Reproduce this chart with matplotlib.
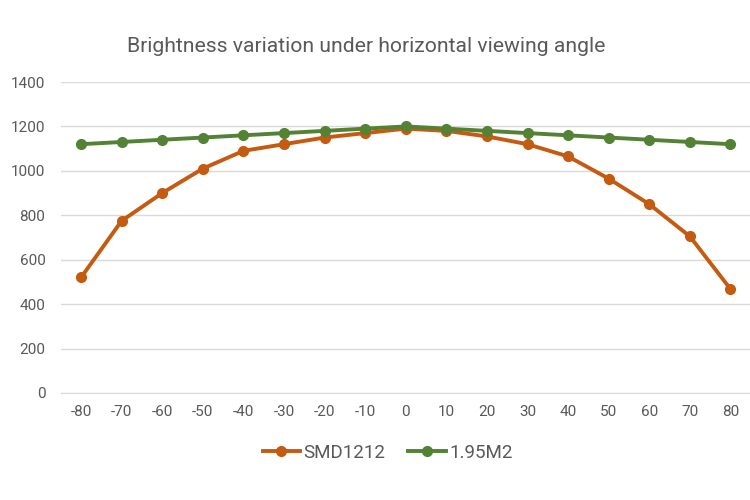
import matplotlib
matplotlib.use("Agg")
import matplotlib.pyplot as plt
import numpy as np

plt.rcParams['font.family'] = ['Roboto', 'DejaVu Sans']

angles = ['-80', '-70', '-60', '-50', '-40', '-30', '-20', '-10', '0',
          '10', '20', '30', '40', '50', '60', '70', '80']
smd1212 = [520, 775, 900, 1010, 1090, 1120, 1150, 1170, 1190,
           1180, 1155, 1120, 1065, 965, 850, 705, 468]
m195 = [1120, 1130, 1140, 1150, 1160, 1170, 1180, 1190, 1200,
        1190, 1180, 1170, 1160, 1150, 1140, 1130, 1120]

text_col = '#595959'

fig = plt.figure(figsize=(7.5, 5), dpi=100)
ax = fig.add_axes([0.081, 0.214, 0.92, 0.622])

x = np.arange(len(angles))
ax.plot(x, smd1212, color='#C55A11', lw=2.8, marker='o', ms=7, label='SMD1212', zorder=3)
ax.plot(x, m195, color='#548235', lw=2.8, marker='o', ms=7, label='1.95M2', zorder=3)

ax.set_xlim(-0.5, len(angles) - 0.5)
ax.set_ylim(0, 1400)
ax.set_yticks(range(0, 1401, 200))
ax.set_xticks(x)
ax.set_xticklabels(angles)
ax.yaxis.grid(True, color='#D9D9D9', lw=1)
ax.set_axisbelow(True)
for s in ax.spines.values():
    s.set_visible(False)
ax.spines['bottom'].set_visible(True)
ax.spines['bottom'].set_color('#D9D9D9')
ax.tick_params(length=0, labelsize=11, colors=text_col)
ax.tick_params(axis='y', pad=11)
ax.tick_params(axis='x', pad=9)

fig.text(0.488, 0.906, 'Brightness variation under horizontal viewing angle',
         ha='center', va='center', fontsize=15.2, color=text_col)
fig.legend(loc='center', bbox_to_anchor=(0.517, 0.094), ncol=2, frameon=False,
           fontsize=13.5, handlelength=2.0, columnspacing=1.2, handletextpad=0.2,
           labelcolor=text_col)

fig.savefig('out.png', dpi=100)
